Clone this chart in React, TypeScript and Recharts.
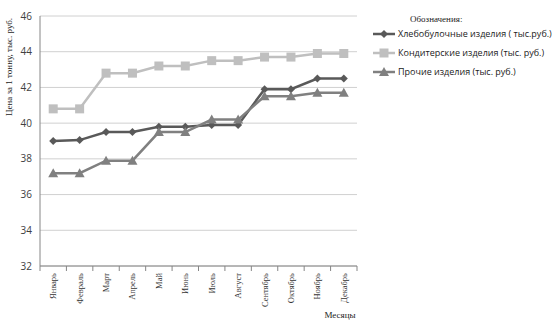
import { CartesianGrid, Line, LineChart, XAxis, YAxis } from "recharts";

// Месяцы и цены за 1 тонну (тыс. руб.)
const months = ["Январь", "Февраль", "Март", "Апрель", "Май", "Июнь", "Июль", "Август", "Сентябрь", "Октябрь", "Ноябрь", "Декабрь"];
const bread = [39.0, 39.05, 39.5, 39.5, 39.8, 39.8, 39.9, 39.9, 41.9, 41.9, 42.5, 42.5];
const confect = [40.8, 40.8, 42.8, 42.8, 43.2, 43.2, 43.5, 43.5, 43.7, 43.7, 43.9, 43.9];
const other = [37.2, 37.2, 37.9, 37.9, 39.5, 39.5, 40.2, 40.2, 41.5, 41.5, 41.7, 41.7];
const yTicks = [32, 34, 36, 38, 40, 42, 44, 46];

const SERIES = [
  { key: "bread", name: "Хлебобулочные изделия ( тыс.руб.)", color: "#595959", shape: "diamond" },
  { key: "confect", name: "Кондитерские изделия (тыс. руб.)", color: "#bfbfbf", shape: "square" },
  { key: "other", name: "Прочие изделия (тыс. руб.)", color: "#808080", shape: "triangle" },
];

const data = months.map((m, i) => ({ x: i + 0.5, month: m, bread: bread[i], confect: confect[i], other: other[i] }));

// отметки: целые значения — засечки между месяцами, половинки — подписи
const xTicks: number[] = [];
for (let i = 0; i <= 12; i++) {
  xTicks.push(i);
  if (i < 12) xTicks.push(i + 0.5);
}

const SERIF = "'Liberation Serif', 'Times New Roman', serif";
const SANS = "'Open Sans', 'Liberation Sans', sans-serif";

function Marker({ cx, cy, shape, color }: { cx: number; cy: number; shape: string; color: string }) {
  if (shape === "diamond") {
    const r = 4;
    return <polygon points={`${cx},${cy - r} ${cx + r},${cy} ${cx},${cy + r} ${cx - r},${cy}`} fill={color} />;
  }
  if (shape === "square") {
    return <rect x={cx - 4.5} y={cy - 4.5} width={9} height={9} fill={color} />;
  }
  return <polygon points={`${cx},${cy - 5} ${cx + 5},${cy + 4} ${cx - 5},${cy + 4}`} fill={color} />;
}

function MonthTick(props: any) {
  const { x, y, payload } = props;
  const v = payload.value as number;
  if (Number.isInteger(v)) {
    return <line x1={x} x2={x} y1={y - 7} y2={y - 2} stroke="#868686" />;
  }
  return (
    <text x={x} y={y} transform={`rotate(-90, ${x}, ${y})`} textAnchor="end" dy={3} fontSize={8.5} fontFamily={SERIF} fill="#333">
      {months[Math.floor(v)]}
    </text>
  );
}

function LegendBox() {
  return (
    <div style={{ position: "absolute", left: 372, top: 14, fontFamily: SANS, fontSize: 9, color: "#222" }}>
      <div style={{ fontFamily: SERIF, fontSize: 9, marginLeft: 38, marginBottom: 0 }}>Обозначения:</div>
      {SERIES.map((s) => (
        <div key={s.key} style={{ display: "flex", alignItems: "center", height: 19 }}>
          <svg width={24} height={12} style={{ marginRight: 2 }}>
            <line x1={1} x2={23} y1={6} y2={6} stroke={s.color} strokeWidth={2.5} />
            <Marker cx={12} cy={6} shape={s.shape} color={s.color} />
          </svg>
          <span>{s.name}</span>
        </div>
      ))}
    </div>
  );
}

export default function App() {
  return (
    <div style={{ position: "fixed", left: 0, top: 0, width: 557, height: 325, background: "#fff" }}>
      <LineChart width={557} height={325} data={data} margin={{ top: 16, right: 200, bottom: 0, left: 0 }}>
        <CartesianGrid vertical={false} stroke="#d0d0d0" />
        <XAxis
          dataKey="x"
          type="number"
          domain={[0, 12]}
          ticks={xTicks}
          interval={0}
          tickLine={false}
          tickSize={5}
          tickMargin={2}
          tick={<MonthTick />}
          axisLine={{ stroke: "#868686" }}
          height={59}
        />
        <YAxis
          domain={[32, 46]}
          ticks={yTicks}
          width={40}
          tickLine={false}
          axisLine={{ stroke: "#868686" }}
          tick={{ fontSize: 10, fill: "#404040", fontFamily: SANS }}
          label={{ value: "Цена за 1 тонну, тыс. руб.", angle: -90, position: "insideLeft", dx: 4, dy: -74, style: { fontSize: 9, fontFamily: SERIF, fill: "#222", textAnchor: "middle" } }}
        />
        <YAxis yAxisId="r" orientation="right" width={0} tick={false} tickLine={false} axisLine={{ stroke: "#bfbfbf" }} domain={[32, 46]} />
        {SERIES.map((s) => (
          <Line
            key={s.key}
            dataKey={s.key}
            name={s.name}
            stroke={s.color}
            strokeWidth={2.5}
            isAnimationActive={false}
            dot={(p: any) => <Marker key={p.index} cx={p.cx} cy={p.cy} shape={s.shape} color={s.color} />}
            activeDot={false}
          />
        ))}
        <text x={340} y={318} textAnchor="middle" fontSize={9} fontFamily={SERIF} fill="#222">Месяцы</text>
      </LineChart>
      <LegendBox />
    </div>
  );
}
